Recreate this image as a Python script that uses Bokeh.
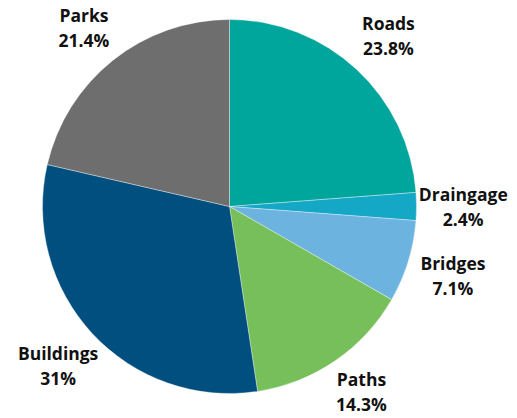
import math
from bokeh.plotting import figure
from bokeh.models import Range1d, ColumnDataSource
from bokeh.core.properties import value
from bokeh.embed import file_html
from bokeh.resources import INLINE

categories = ["Roads", "Draingage", "Bridges", "Paths", "Buildings", "Parks"]
shares = [23.8, 2.4, 7.1, 14.3, 31.0, 21.4]
pct_labels = ["23.8%", "2.4%", "7.1%", "14.3%", "31%", "21.4%"]
colors = ["#00A59B", "#14A7C6", "#6CB3E0", "#77BF5A", "#004F7E", "#6E6E6E"]

W, H = 517, 418
cx, cy, r = 229, H - 206, 187
lab_r = 1.25 * r
half_gap = 12.5

total = sum(shares)
starts, ends, lx, ly1, ly2 = [], [], [], [], []
cum = 0.0
for s in shares:
    a0 = math.pi / 2 - 2 * math.pi * cum / total
    cum += s
    a1 = math.pi / 2 - 2 * math.pi * cum / total
    starts.append(a0)
    ends.append(a1)
    mid = (a0 + a1) / 2
    x = cx + lab_r * math.cos(mid)
    y = cy + lab_r * math.sin(mid)
    y = min(max(y, 27), H - 27)
    lx.append(x)
    ly1.append(y + half_gap)
    ly2.append(y - half_gap)

src = ColumnDataSource(dict(start=starts, end=ends, color=colors))
lsrc = ColumnDataSource(dict(x=lx, y1=ly1, y2=ly2, name=categories, pct=pct_labels))

p = figure(width=W, height=H, x_range=Range1d(0, W), y_range=Range1d(0, H),
           output_backend="svg", toolbar_location=None, min_border=0)
p.axis.visible = False
p.grid.visible = False
p.outline_line_color = None
p.background_fill_color = "white"
p.border_fill_color = "white"

p.wedge(x=cx, y=cy, radius=r, start_angle="start", end_angle="end",
        direction="clock", fill_color="color", line_color="white",
        line_width=0.6, line_alpha=0.6, source=src)

common = dict(source=lsrc, text_align="center", text_baseline="middle",
              text_font=value("Open Sans"), text_font_style="bold",
              text_font_size="17.5px", text_color="#111111")
p.text(x="x", y="y1", text="name", **common)
p.text(x="x", y="y2", text="pct", **common)

open("out.html", "w").write(file_html(p, INLINE))
